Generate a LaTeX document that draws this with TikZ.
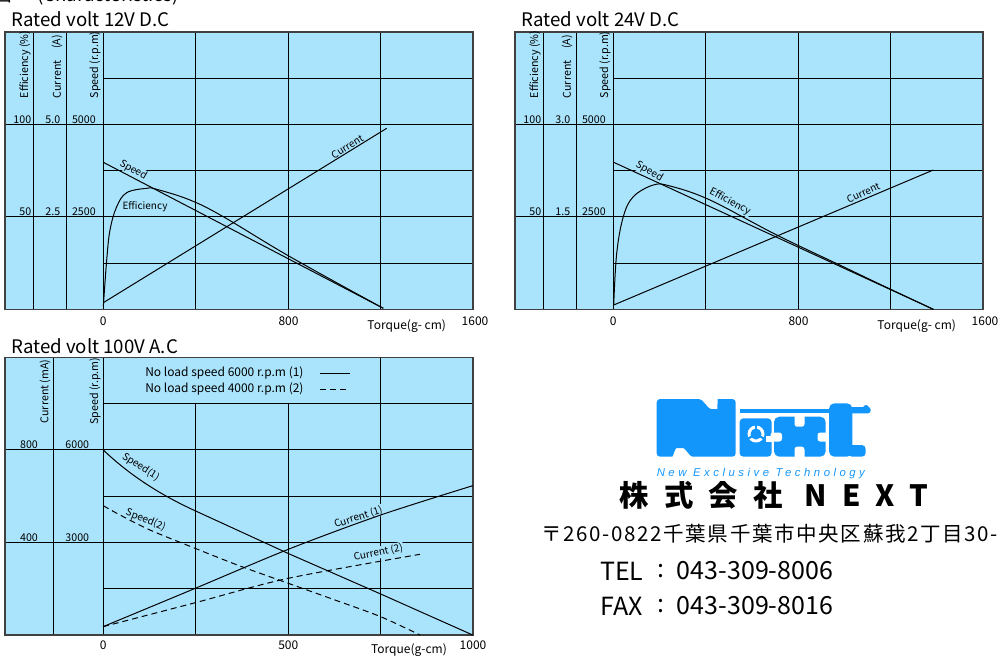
\documentclass[tikz,border=0pt]{standalone}
\usepackage{fontspec}
\setmainfont{Noto Sans CJK JP}
\newfontfamily\logofont[LetterSpace=31]{Liberation Sans}
\newfontfamily\namefont[LetterSpace=52]{Noto Sans CJK JP}
\newfontfamily\addrfont[LetterSpace=8]{Noto Sans CJK JP}
\usetikzlibrary{positioning}
\definecolor{chartblue}{RGB}{170,228,252}
\definecolor{logoblue}{RGB}{18,150,252}
\tikzset{panel/.style={draw=black!75, fill=chartblue, line width=0.8pt}}
\tikzset{ruling/.style={draw, line width=0.75pt}}
\tikzset{curve/.style={draw, line width=0.75pt}}
\tikzset{dashcurve/.style={curve, dash pattern=on 4.5pt off 3pt}}
\tikzset{charttitle/.style={anchor=base west, inner sep=0pt, font=\fontsize{14}{17}\selectfont}}
\tikzset{axisname/.style={rotate=90, anchor=west, inner sep=0pt, font=\fontsize{8}{10}\selectfont}}
\tikzset{axisvalue/.style={anchor=south east, inner sep=0pt, font=\fontsize{8}{9}\selectfont}}
\tikzset{curvelabel/.style={fill=chartblue, inner sep=0.6pt, font=\fontsize{7.5}{8}\selectfont}}
\tikzset{ticklabel/.style={inner sep=0pt, font=\fontsize{9}{10}\selectfont}}
\tikzset{legendtext/.style={anchor=west, inner sep=0pt, font=\fontsize{9}{11}\selectfont}}
\tikzset{notch/.style={fill=white, rounded corners=2pt}}
\tikzset{contact/.style={anchor=west, inner sep=0pt, font=\fontsize{18.75}{22}\selectfont}}

\begin{document}
\begin{tikzpicture}[x=0.75pt, y=-0.75pt]
\useasboundingbox (0,0) rectangle (1001,657);

\node[charttitle] (head) at (-7,1.5) {図\hspace{19pt}(Characteristics)};

% D.C charts
\foreach \dx/\volt/\amax/\ahalf in {0/12/5.0/2.5, 510/24/3.0/1.5}{
\begin{scope}[shift={(\dx,0)}]
  \path[panel] (5,32) rectangle (473,309.3);
  \foreach \x in {33.3,66.7,103.3,195.7,288,380.4} \path[ruling] (\x,32) -- (\x,309.3);
  \foreach \y in {124.4,216.8} \path[ruling] (5,\y) -- (473,\y);
  \foreach \y in {78.2,170.6,263} \path[ruling] (103.3,\y) -- (473,\y);
  \path[panel, fill=none] (5,32) rectangle (473,309.3);

  \node[charttitle] (title\volt) at (11.5,26.7) {Rated volt \volt V D.C};
  \node[axisname] (eff\volt) at (25,98.5) {Efficiency (\%)};
  \node[axisname] (cur\volt) at (57,98.5) {Current};
  \node[axisname, anchor=east] (amp\volt) at (57,35) {(A)};
  \node[axisname] (spd\volt) at (95,98.5) {Speed (r.p.m)};

  \node[axisvalue] (ea\volt) at (31.5,123.5) {100};
  \node[axisvalue] (ca\volt) at (60.5,123.5) {\amax};
  \node[axisvalue] (sa\volt) at (96,123.5) {5000};
  \node[axisvalue] (eb\volt) at (31.5,216) {50};
  \node[axisvalue] (cb\volt) at (60.5,216) {\ahalf};
  \node[axisvalue] (sb\volt) at (96,216) {2500};

  \node[ticklabel] (t0\volt) at (103.3,321.7) {0};
  \node[ticklabel] (t1\volt) at (288.5,321.7) {800};
  \node[ticklabel] (t2\volt) at (475,321.7) {1600};
  \node[ticklabel] (tq\volt) at (406.7,326) {Torque(g- cm)};
\end{scope}
}

% 12V curves
\node[curvelabel, rotate=-30] (s12) at (133.3,170) {Speed};
\node[curvelabel] (e12) at (145,206.7) {Efficiency};
\node[curvelabel, rotate=32] (c12) at (347.3,146.7) {Current};
\path[curve] (103.3,162.3) -- (383.3,308.3);
\path[curve] (103.3,302.7) -- (386.7,128.3);
\path[curve] plot[smooth, tension=0.6] coordinates {(103.3,306.7) (106.7,260) (110,230) (116.7,206.7) (126.7,192.7) (146.7,188.3) (156.7,189.3) (190,200) (223.3,216.7) (290,256.7) (383.3,308.3)};

% 24V curves
\node[curvelabel, rotate=-30] (s24) at (649.3,171.3) {Speed};
\node[curvelabel, rotate=-28] (e24) at (730,201.7) {Efficiency};
\node[curvelabel, rotate=25] (c24) at (863.3,192.7) {Current};
\path[curve] (613.7,162.3) -- (933.3,309.3);
\path[curve] (613.7,305) -- (933.3,170);
\path[curve] plot[smooth, tension=0.6] coordinates {(613.7,305) (616.7,253.3) (623.3,216.7) (633.3,196.7) (653.3,185) (670,186) (710,200) (776.7,235) (843.3,266.7) (876.7,282.7) (933.3,309.3)};

% A.C chart
\path[panel] (5,357.3) rectangle (473,635);
\foreach \x in {53.3,103.3,380.5} \path[ruling] (\x,357.3) -- (\x,635);
\foreach \x in {195.7,288.3} \path[ruling] (\x,403.6) -- (\x,635);
\foreach \y in {449.9,542.5} \path[ruling] (5,\y) -- (473,\y);
\foreach \y in {403.6,496.2,588.8} \path[ruling] (103.3,\y) -- (473,\y);
\path[panel, fill=none] (5,357.3) rectangle (473,635);

\node[charttitle] (title100) at (11,353.3) {Rated volt 100V A.C};
\node[axisname] (cur100) at (45,423.5) {Current (mA)};
\node[axisname] (spd100) at (95,425) {Speed (r.p.m)};
\node[axisvalue, anchor=south] (ca100) at (29,449) {800};
\node[axisvalue, anchor=south] (sa100) at (77.3,449) {6000};
\node[axisvalue, anchor=south] (cb100) at (29,541.5) {400};
\node[axisvalue, anchor=south] (sb100) at (77.3,541.5) {3000};
\node[ticklabel] (t0100) at (103.3,645) {0};
\node[ticklabel] (t1100) at (288.3,645) {500};
\node[ticklabel] (t2100) at (473,645) {1000};
\node[ticklabel] (tq100) at (409,650) {Torque(g-cm)};

\node[legendtext] (leg1) at (145,373.3) {No load speed 6000 r.p.m (1)};
\node[legendtext] (leg2) at (145,389.3) {No load speed 4000 r.p.m (2)};
\path[curve] (320,373.3) -- (350,373.3);
\path[dashcurve] (320,389.3) -- (350,389.3);

\node[curvelabel, rotate=-33] (s1) at (140.7,467) {Speed(1)};
\node[curvelabel, rotate=-22] (s2) at (145.7,520) {Speed(2)};
\node[curvelabel, rotate=18] (c1) at (358.3,517.3) {Current (1)};
\node[curvelabel, rotate=12] (c2) at (378.3,552.7) {Current (2)};
\path[curve] (103.3,450) .. controls (133.3,478.5) and (165,496.9) .. (195,510.7) -- (288.3,553.5) -- (380.7,594) -- (472.7,635);
\path[dashcurve] plot[smooth, tension=0.5] coordinates {(103.3,505.7) (120,515) (150,530) (195,548.3) (240,566) (288.3,583.3) (335,600) (380.7,616.7) (420,635)};
\path[curve] plot[smooth] coordinates {(103,626.7) (196,588) (288.3,549.3) (380.7,515) (472.7,485.7)};
\path[dashcurve] plot[smooth] coordinates {(103,626.7) (196,602.5) (288.3,578.3) (420,554.3)};

% logo
\fill[logoblue, rounded corners=2.5pt] (656.7,399) -- (695.7,399) .. controls (703,399) and (708,409) .. (714,409) .. controls (717,409) and (718,399) .. (721,399) -- (735.7,399) -- (735.7,456.7) -- (695.7,456.7) .. controls (690,456.7) and (685,448) .. (680,448) .. controls (675,448) and (673,456.7) .. (669,456.7) -- (656.7,456.7) -- cycle;
\fill[logoblue, rounded corners=3pt] (739.5,418.3) rectangle (771.7,456.7);
\fill[logoblue] (740,409) rectangle (866,412.5);
\fill[white] (756,434) circle (8.5);
\fill[logoblue] (756,434) circle (5.5);
\foreach \dx/\dy in {0/-9.5, -8.2/4.8, 8.2/4.8} \draw[logoblue, line width=1.6pt] (756,434) -- ++(\dx,\dy);
\fill[white] (765.5,436) rectangle (772,441.5);
\fill[logoblue, rounded corners=4pt] (774,416.7) rectangle (825.7,456.7);
\fill[notch] (794.5,413) rectangle (804.5,426.7);
\fill[notch] (794.5,446.7) rectangle (804.5,460);
\fill[notch] (770.5,432.5) rectangle (782,441.5);
\fill[notch] (817.5,432.5) rectangle (829,441.5);
\fill[logoblue, rounded corners=4pt] (829,403.3) rectangle (852.3,456.7);
\fill[logoblue, rounded corners=3pt] (848,445) rectangle (865.7,456.7);
\fill[logoblue, rounded corners=2pt] (848,407) rectangle (870.7,413.3);
\fill[logoblue] (866,408) circle (3);
\node[inner sep=0pt, anchor=west, text=logoblue, font=\logofont\itshape\fontsize{8.5}{9}\selectfont] (slogan) at (656.5,473.7) {New Exclusive Technology};

% company
\node[inner sep=0pt, font=\namefont\bfseries\fontsize{22}{25}\selectfont] (company) at (774,495.8) {株式会社 NEXT};
\node[inner sep=0pt, anchor=west, font=\addrfont\fontsize{15.4}{18}\selectfont] (addr) at (541,534) {〒260-0822千葉県千葉市中央区蘇我2丁目30-};
\node[contact] (tel) at (600,571) {TEL};
\node[contact, anchor=center] (telc) at (661,571) {:};
\node[contact] (telno) at (676.7,571) {043-309-8006};
\node[contact] (fax) at ([yshift=-26.25pt]tel.west) {FAX};
\node[contact, anchor=center] (faxc) at ([yshift=-26.25pt]telc.center) {:};
\node[contact] (faxno) at ([yshift=-26.25pt]telno.west) {043-309-8016};
\end{tikzpicture}
\end{document}
